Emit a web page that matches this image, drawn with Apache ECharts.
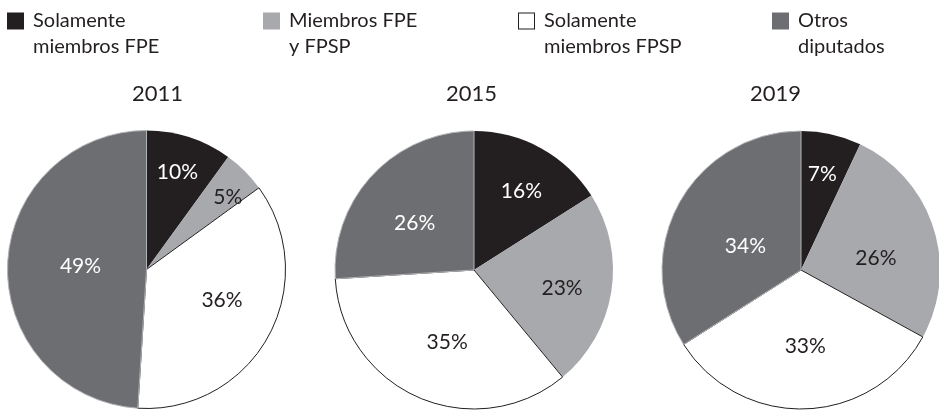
<!DOCTYPE html>
<html>
<head>
<meta charset="utf-8">
<script src="https://cdn.jsdelivr.net/npm/echarts@6/dist/echarts.min.js"></script>
<style>
html,body{margin:0;padding:0;background:#fff;}
#chart{width:939px;height:410px;}
</style>
</head>
<body>
<div id="chart"></div>
<script>
// ---- data ----
const categories = ['Solamente\nmiembros FPE', 'Miembros FPE\ny FPSP', 'Solamente\nmiembros FPSP', 'Otros\ndiputados'];
const years = ['2011', '2015', '2019'];
const values2011 = [10, 5, 36, 49];
const values2015 = [16, 23, 35, 26];
const values2019 = [7, 26, 33, 34];

// ---- styling / layout ----
const FONT = 'Lato';
const INK = '#231f20';
const sliceColors = ['#231f20', '#a7a9ac', '#ffffff', '#6d6e71'];
const sliceBorders = [null, null, '#231f20', '#b3b4b7'];
const labelColors = ['#ffffff', INK, INK, '#ffffff'];
const pieCenters = [[146.5, 269.5], [474, 270], [801, 270]];
const pieRadius = 139;
const titleLefts = [132, 446, 750];
const legendLefts = [7, 263, 518, 772];
const labelNudges = [
  [[8.5, -28], [30, -21.5], [12, -4.5], [6.5, -1]],
  [[12.5, -15], [16.5, 7], [2, 6], [-6.5, 3]],
  [[5.5, -25], [6, 11], [2, 4], [8, 11.5]]
];
// legend swatch: 17px square at the top of a 17x43 icon box (so it lines up with the first text line)
const SWATCH_FILLED = 'path://M0,0H17V17H0Z M0,42.99H0.01V43H0Z';
const SWATCH_OUTLINE = 'path://M0,0H17V17H0Z M1,1V16H16V1Z M0,42.99H0.01V43H0Z';

const allValues = [values2011, values2015, values2019];

function buildData(vals) {
  return categories.map((name, i) => {
    const item = {
      name: name,
      value: vals[i],
      itemStyle: { color: sliceColors[i] },
      label: { color: labelColors[i] }
    };
    if (sliceBorders[i]) {
      item.itemStyle.borderColor = sliceBorders[i];
      item.itemStyle.borderWidth = 1;
    }
    return item;
  });
}

const series = allValues.map((vals, s) => ({
  type: 'pie',
  center: pieCenters[s],
  radius: pieRadius,
  startAngle: 90,
  clockwise: true,
  animation: false,
  silent: true,
  label: {
    show: true,
    position: 'inside',
    formatter: '{c}%',
    fontFamily: FONT,
    fontSize: 21
  },
  labelLine: { show: false },
  labelLayout: function (params) {
    const n = labelNudges[s][params.dataIndex];
    return { dx: n[0], dy: n[1] };
  },
  emphasis: { disabled: true },
  data: buildData(vals)
}));

const titles = years.map((y, i) => ({
  text: y,
  left: titleLefts[i],
  top: 83,
  padding: 0,
  textStyle: { fontFamily: FONT, fontSize: 22, fontWeight: 'normal', color: INK }
}));

const legends = categories.map((name, i) => ({
  data: [{
    name: name,
    icon: i === 2 ? SWATCH_OUTLINE : SWATCH_FILLED,
    itemStyle: { color: i === 2 ? INK : sliceColors[i], borderWidth: 0 }
  }],
  left: legendLefts[i],
  top: 8,
  padding: 0,
  itemWidth: 17,
  itemHeight: 43,
  selectedMode: false,
  textStyle: {
    fontFamily: FONT,
    fontSize: 20,
    lineHeight: 26,
    color: INK,
    padding: [0, 0, 0, 4]
  }
}));

const chart = echarts.init(document.getElementById('chart'), null, { renderer: 'canvas' });
chart.setOption({
  backgroundColor: '#ffffff',
  animation: false,
  title: titles,
  legend: legends,
  series: series
});
</script>
</body>
</html>
